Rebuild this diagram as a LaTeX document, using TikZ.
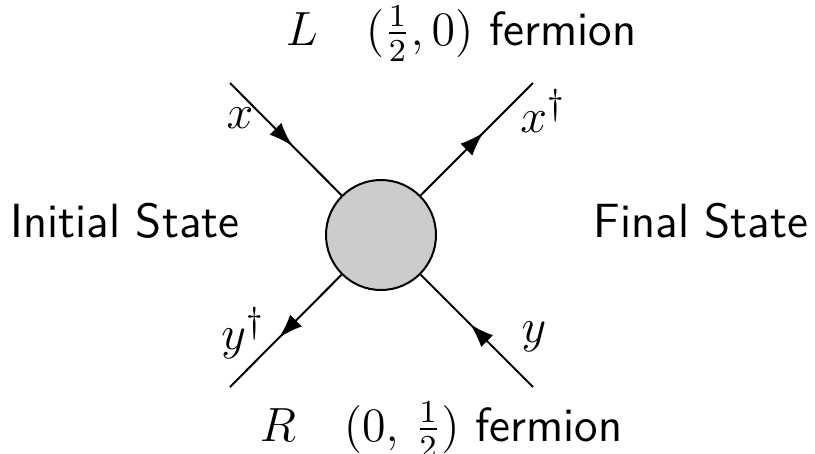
\documentclass[tikz,border=0pt]{standalone}
\usetikzlibrary{arrows.meta,decorations.markings}
\begin{document}
\begin{tikzpicture}[x=0.25pt,y=-0.25pt,
  prop/.style={line width=0.5pt,
    postaction={decorate,decoration={markings,
      mark=at position 0.56 with {\arrow{Latex[length=6pt,width=4.2pt]}}}}},
  lbl/.style={font=\fontsize{13}{15}\selectfont},
  side/.style={font=\fontsize{12}{14}\selectfont\sffamily, inner sep=0pt},
  title/.style={font=\fontsize{12}{14}\selectfont, anchor=base west, inner sep=0pt}]
\useasboundingbox (0,0) rectangle (815,453);
\node[circle, draw, line width=0.5pt, fill=black!20, minimum size=27.5pt, inner sep=0pt] (blob) at (381,235) {};
\coordinate (ul) at (230,83);
\coordinate (ur) at (533,83);
\coordinate (ll) at (230,387);
\coordinate (lr) at (533,387);
\draw[prop] (ul) -- (blob);
\draw[prop] (blob) -- (ur);
\draw[prop] (blob) -- (ll);
\draw[prop] (lr) -- (blob);
\node[lbl] (lx) at (240,118) {$x$};
\node[lbl] (lxd) at (543,111) {$x^\dagger$};
\node[lbl] (lyd) at (243,333) {$y^\dagger$};
\node[lbl] (ly) at (534,337) {$y$};
\node[side, anchor=base west] (ini) at (10,237) {Initial State};
\node[side, anchor=base east] (fin) at (809,237) {Final State};
\node[title] (top) at (285,45) {$L\quad(\frac{1}{2},0)$ \textsf{fermion}};
\node[title] (bot) at (259,441) {$R\quad(0,\,\frac{1}{2})$ \textsf{fermion}};
\end{tikzpicture}
\end{document}
